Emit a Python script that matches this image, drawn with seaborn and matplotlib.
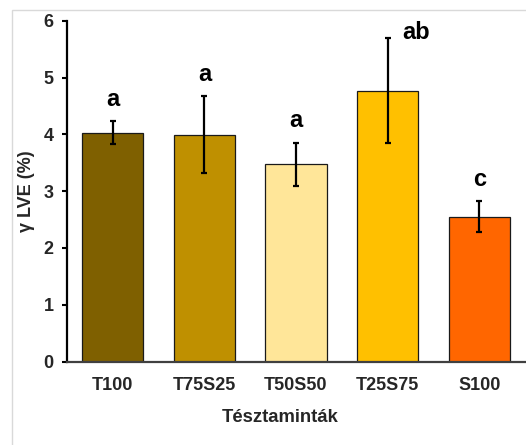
import matplotlib
matplotlib.use("Agg")
import matplotlib.pyplot as plt
import matplotlib.patches as mpatches
import seaborn as sns
import pandas as pd

categories = ["T100", "T75S25", "T50S50", "T25S75", "S100"]
values = [4.03, 3.99, 3.47, 4.77, 2.55]
errors = [0.20, 0.68, 0.38, 0.92, 0.27]
letters = ["a", "a", "a", "ab", "c"]
colors = ["#7F6000", "#BF9000", "#FFE699", "#FFC000", "#FF6600"]
yticks = [0, 1, 2, 3, 4, 5, 6]

sns.set_theme(style="white")
plt.rcParams["font.family"] = ["Liberation Sans", "DejaVu Sans"]
plt.rcParams["font.weight"] = "bold"

df = pd.DataFrame({"cat": categories, "val": values})

fig = plt.figure(figsize=(5.26, 4.45), dpi=100)
ax = fig.add_axes([67 / 526, 1 - 361.5 / 445, 458 / 526, 340.8 / 445])

sns.barplot(data=df, x="cat", y="val", hue="cat", palette=colors, order=categories,
            hue_order=categories, width=0.67, edgecolor="#1a1a1a", linewidth=0.9,
            saturation=1, legend=False, ax=ax, errorbar=None)

xs = list(range(len(categories)))
ax.errorbar(xs, values, yerr=errors, fmt="none", ecolor="black", elinewidth=1.6,
            capsize=2.5, capthick=1.6, zorder=5)

for i, (v, e, t) in enumerate(zip(values, errors, letters)):
    if len(t) > 1:
        ax.text(i + 0.31, v + e - 0.02, t, ha="center", va="baseline",
                fontsize=17, fontweight="bold", color="black")
    else:
        ax.text(i, v + e + 0.27, t, ha="center", va="baseline",
                fontsize=17, fontweight="bold", color="black")

ax.set_ylim(0, 6)
ax.set_xlim(-0.5, len(categories) - 0.5)
ax.set_yticks(yticks)
ax.set_yticklabels([str(t) for t in yticks], fontsize=13, fontweight="bold")
ax.set_xticks(xs)
ax.set_xticklabels(categories, fontsize=13, fontweight="bold")

for s in ["top", "right"]:
    ax.spines[s].set_visible(False)
ax.spines["left"].set_color("black")
ax.spines["left"].set_linewidth(1.6)
ax.spines["bottom"].set_color("#404040")
ax.spines["bottom"].set_linewidth(1.6)

ax.tick_params(axis="y", direction="out", length=3.8, width=1.5, color="black",
               pad=6, left=True)
ax.tick_params(axis="x", length=0, pad=11)

ax.set_ylabel("γ LVE (%)", fontsize=13, fontweight="bold", labelpad=6)
ax.set_xlabel("Tésztaminták", fontsize=13.3, fontweight="bold")
ax.xaxis.set_label_coords(0.466, -0.14)

border = mpatches.Rectangle((11.5 / 526, -0.1), 1.2, (445 - 10.5) / 445 + 0.1,
                            transform=fig.transFigure, fill=False,
                            edgecolor="#d9d9d9", linewidth=1.0)
fig.patches.append(border)

fig.savefig("out.png", dpi=100)
